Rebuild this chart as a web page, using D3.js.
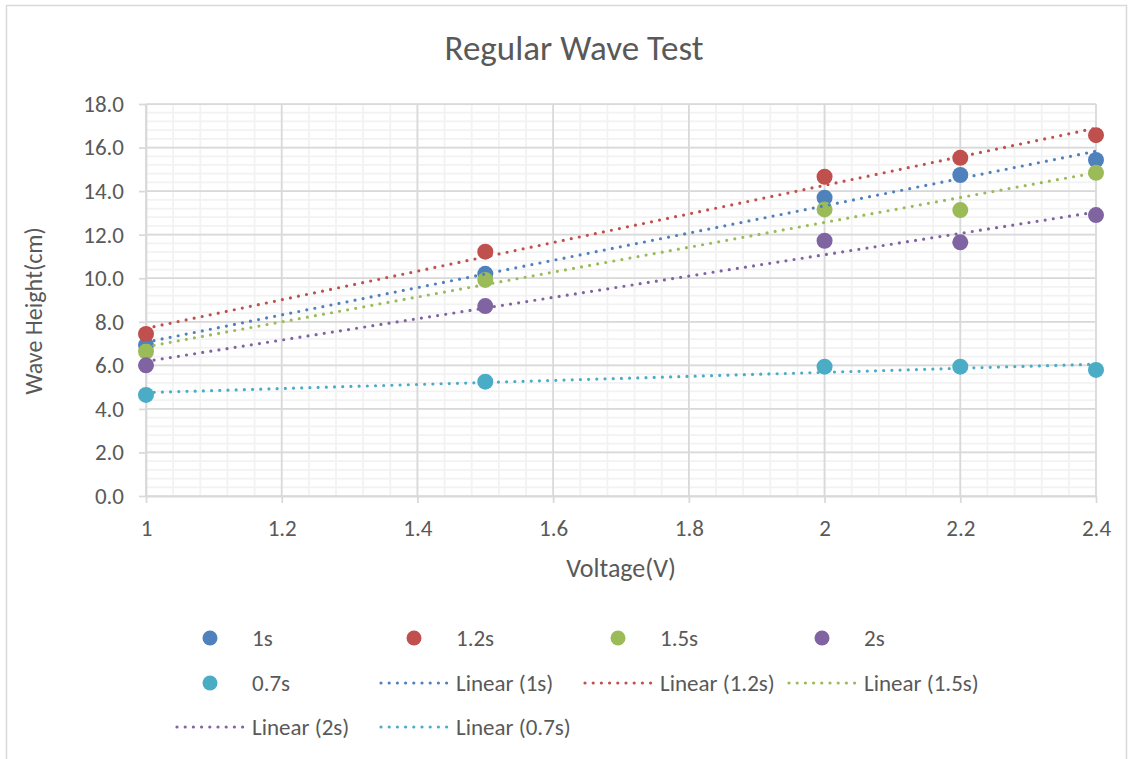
<!DOCTYPE html>
<html>
<head>
<meta charset="utf-8">
<script src="https://cdn.jsdelivr.net/npm/d3@7/dist/d3.min.js"></script>
<style>
  html, body { margin: 0; padding: 0; background: #fff; }
  svg { display: block; font-family: Carlito, Calibri, Lato, "Open Sans", sans-serif; }
</style>
</head>
<body>
<svg id="chart" width="1132" height="759"></svg>
<script>
// Measured wave heights (cm) for each wave period, at each paddle voltage (V)
const voltages = [1, 1.5, 2, 2.2, 2.4];
const height1s = [6.93, 10.2, 13.7, 14.74, 15.43];
const height12s = [7.44, 11.22, 14.66, 15.53, 16.57];
const height15s = [6.63, 9.92, 13.16, 13.13, 14.84];
const height2s = [6.0, 8.72, 11.72, 11.65, 12.9];
const height07s = [4.64, 5.25, 5.94, 5.94, 5.79];

const seriesNames = ["1s", "1.2s", "1.5s", "2s", "0.7s"];
const seriesValues = [height1s, height12s, height15s, height2s, height07s];
const seriesColors = ["#4F81BD", "#C0504D", "#9BBB59", "#8064A2", "#4BACC6"];

const xTicks = [1, 1.2, 1.4, 1.6, 1.8, 2, 2.2, 2.4];
const yTicks = [0, 2, 4, 6, 8, 10, 12, 14, 16, 18];

const title = "Regular Wave Test";
const xTitle = "Voltage(V)";
const yTitle = "Wave Height(cm)";

const svg = d3.select("#chart");
const textColor = "#595959";

// Chart frame
svg.append("rect")
  .attr("x", 6.5).attr("y", 5.5)
  .attr("width", 1120).attr("height", 770)
  .attr("fill", "#fff").attr("stroke", "#d9d9d9").attr("stroke-width", 1.5);

const plot = { left: 146, right: 1096, top: 104, bottom: 496 };

const x = d3.scaleLinear().domain([1, 2.4]).range([plot.left, plot.right]);
const y = d3.scaleLinear().domain([0, 18]).range([plot.bottom, plot.top]);

// Minor gridlines
const minorX = d3.range(1, 2.4001, 0.04);
const minorY = d3.range(0, 18.001, 0.4);
const grid = svg.append("g");
grid.selectAll("line.mx").data(minorX).join("line")
  .attr("x1", d => x(d)).attr("x2", d => x(d))
  .attr("y1", plot.top).attr("y2", plot.bottom)
  .attr("stroke", "#f2f2f2").attr("stroke-width", 1.75);
grid.selectAll("line.my").data(minorY).join("line")
  .attr("x1", plot.left).attr("x2", plot.right)
  .attr("y1", d => y(d)).attr("y2", d => y(d))
  .attr("stroke", "#f2f2f2").attr("stroke-width", 1.75);

// Major gridlines
grid.selectAll("line.Mx").data(xTicks).join("line")
  .attr("x1", d => x(d)).attr("x2", d => x(d))
  .attr("y1", plot.top).attr("y2", plot.bottom)
  .attr("stroke", "#d9d9d9").attr("stroke-width", 1.75);
grid.selectAll("line.My").data(yTicks).join("line")
  .attr("x1", plot.left).attr("x2", plot.right)
  .attr("y1", d => y(d)).attr("y2", d => y(d))
  .attr("stroke", "#d9d9d9").attr("stroke-width", 1.75);

// Axes
const yAxis = svg.append("g")
  .attr("transform", `translate(${plot.left},0)`)
  .call(d3.axisLeft(y).tickValues(yTicks).tickFormat(d3.format(".1f"))
    .tickSize(7).tickSizeOuter(0).tickPadding(15));
const xAxis = svg.append("g")
  .attr("transform", `translate(0,${plot.bottom})`)
  .call(d3.axisBottom(x).tickValues(xTicks).tickFormat(d => d3.format("")(+d.toFixed(1)))
    .tickSize(7).tickSizeOuter(0).tickPadding(17));
[xAxis, yAxis].forEach(a => {
  a.select(".domain").attr("stroke", "#d9d9d9").attr("stroke-width", 1.75);
  a.selectAll(".tick line").attr("stroke", "#d9d9d9").attr("stroke-width", 1.75);
  a.selectAll(".tick text").attr("fill", textColor)
    .style("font-size", "23px").style("font-family", "Carlito, Calibri, Lato, sans-serif");
});

// Markers
const markers = svg.append("g");
seriesValues.forEach((vals, i) => {
  markers.append("g").selectAll("circle")
    .data(vals.map((v, j) => [voltages[j], v]))
    .join("circle")
    .attr("cx", d => x(d[0])).attr("cy", d => y(d[1]))
    .attr("r", 8).attr("fill", seriesColors[i]);
});

// Least-squares linear trendlines
function linearFit(xs, ys) {
  const mx = d3.mean(xs), my = d3.mean(ys);
  let sxy = 0, sxx = 0;
  xs.forEach((xv, k) => { sxy += (xv - mx) * (ys[k] - my); sxx += (xv - mx) ** 2; });
  const slope = sxy / sxx;
  return xv => my + slope * (xv - mx);
}
const trends = svg.append("g");
seriesValues.forEach((vals, i) => {
  const f = linearFit(voltages, vals);
  const x0 = d3.min(voltages), x1 = d3.max(voltages);
  trends.append("line")
    .attr("x1", x(x0)).attr("y1", y(f(x0)))
    .attr("x2", x(x1)).attr("y2", y(f(x1)))
    .attr("stroke", seriesColors[i]).attr("stroke-width", 3.2)
    .attr("stroke-linecap", "round").attr("stroke-dasharray", "0 8.2");
});

// Titles
svg.append("text")
  .attr("x", 574).attr("y", 60).attr("text-anchor", "middle")
  .attr("fill", textColor).style("font-size", "35px").text(title);
svg.append("text")
  .attr("x", (plot.left + plot.right) / 2).attr("y", 577).attr("text-anchor", "middle")
  .attr("fill", textColor).style("font-size", "26px").text(xTitle);
svg.append("text")
  .attr("transform", `translate(42,311) rotate(-90)`)
  .attr("text-anchor", "middle")
  .attr("fill", textColor).style("font-size", "24px").text(yTitle);

// Legend: markers first, then the trendline entries
const slotX = [175, 379, 583, 787];
const rowY = [638, 683, 727];
const legendItems = [];
seriesNames.forEach((n, i) => legendItems.push({ type: "marker", name: n, color: seriesColors[i] }));
seriesNames.forEach((n, i) => legendItems.push({ type: "line", name: `Linear (${n})`, color: seriesColors[i] }));
const legend = svg.append("g");
legendItems.forEach((it, k) => {
  const sx = slotX[k % 4], sy = rowY[Math.floor(k / 4)];
  if (it.type === "marker") {
    legend.append("circle").attr("cx", sx + 35).attr("cy", sy).attr("r", 7.5).attr("fill", it.color);
  } else {
    legend.append("line")
      .attr("x1", sx + 2).attr("x2", sx + 70).attr("y1", sy).attr("y2", sy)
      .attr("stroke", it.color).attr("stroke-width", 3.2)
      .attr("stroke-linecap", "round").attr("stroke-dasharray", "0 8.2");
  }
  legend.append("text")
    .attr("x", sx + 77).attr("y", sy).attr("dy", "0.35em")
    .attr("fill", textColor).style("font-size", "23px").text(it.name);
});
</script>
</body>
</html>
